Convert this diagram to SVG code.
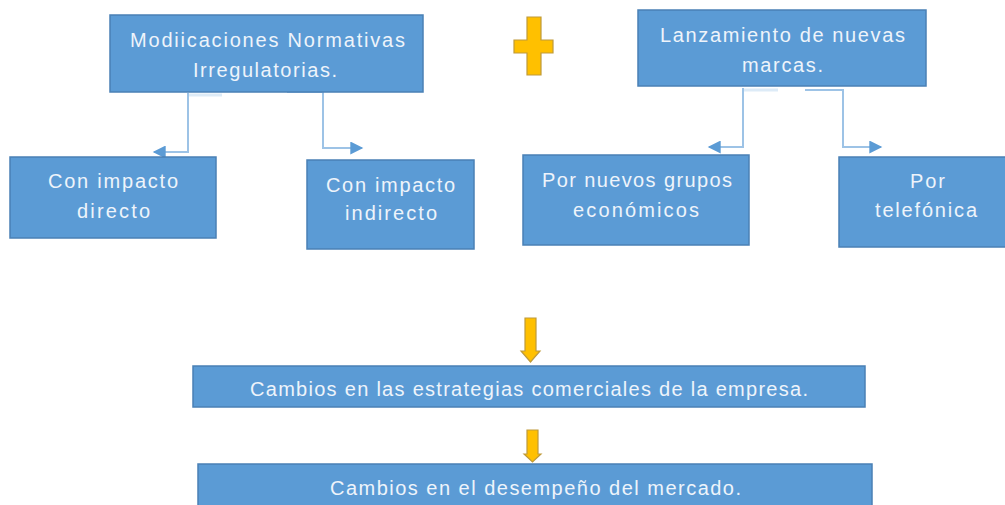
<svg xmlns="http://www.w3.org/2000/svg" width="1005" height="505" viewBox="0 0 1005 505">
<style>
.box{fill:#5B9BD5;stroke:#4A80B5;stroke-width:1.5}
.t{font-family:"Liberation Sans",Arial,sans-serif;font-size:20px;fill:#EEF4FB}
.con{fill:none;stroke:#9DC3E6;stroke-width:2}
.pale{fill:none;stroke:#DDEBF7;stroke-width:3}
.gold{fill:#FFC000;stroke:#BF9A3A;stroke-width:1.2}
</style>
<defs>
<marker id="ah" viewBox="0 0 10 10" refX="9" refY="5" markerWidth="15" markerHeight="13" markerUnits="userSpaceOnUse" orient="auto">
<path d="M0,0 L10,5 L0,10 z" fill="#5B9BD5"/>
</marker>
</defs>
<rect width="1005" height="505" fill="#FFFFFF"/>
<g id="connectors">
<path class="pale" d="M188,95 H222"/>
<path class="con" d="M188,93 V152 H154" marker-end="url(#ah)"/>
<path class="con" d="M287,92 H323 V148 H362" marker-end="url(#ah)"/>
<path class="pale" d="M743,90 H778"/>
<path class="con" d="M743,88 V147 H709" marker-end="url(#ah)"/>
<path class="con" d="M805,90 H843 V147 H881" marker-end="url(#ah)"/>
<path class="gold" d="M525,318 H536 V351 H540 L530.5,362 L521,351 H525 Z"/>
<path class="gold" d="M527,430 H538 V454 H541 L532.5,462 L524,454 H527 Z"/>
</g>
<g id="plus">
<path class="gold" d="M527,17 H541 V40 H553 V53 H541 V75 H527 V53 H514 V40 H527 Z"/>
</g>
<g id="n1">
<rect class="box" x="110" y="15" width="313" height="77"/>
<text class="t" x="130" y="47" textLength="275" lengthAdjust="spacing">Modiicaciones Normativas</text>
<text class="t" x="193" y="77" textLength="144" lengthAdjust="spacing">Irregulatorias.</text>
</g>
<g id="n2">
<rect class="box" x="10" y="157" width="206" height="81"/>
<text class="t" x="48" y="188" textLength="130" lengthAdjust="spacing">Con impacto</text>
<text class="t" x="77" y="218" textLength="73" lengthAdjust="spacing">directo</text>
</g>
<g id="n3">
<rect class="box" x="307" y="160" width="167" height="89"/>
<text class="t" x="326" y="192" textLength="129" lengthAdjust="spacing">Con impacto</text>
<text class="t" x="345" y="220" textLength="92" lengthAdjust="spacing">indirecto</text>
</g>
<g id="n4">
<rect class="box" x="638" y="10" width="288" height="76"/>
<text class="t" x="660" y="42" textLength="245" lengthAdjust="spacing">Lanzamiento de nuevas</text>
<text class="t" x="742" y="72" textLength="81" lengthAdjust="spacing">marcas.</text>
</g>
<g id="n5">
<rect class="box" x="523" y="155" width="226" height="90"/>
<text class="t" x="542" y="187" textLength="190" lengthAdjust="spacing">Por nuevos grupos</text>
<text class="t" x="573" y="217" textLength="126" lengthAdjust="spacing">económicos</text>
</g>
<g id="n6">
<rect class="box" x="839" y="157" width="172" height="90"/>
<text class="t" x="910" y="188" textLength="35" lengthAdjust="spacing">Por</text>
<text class="t" x="875" y="217" textLength="102" lengthAdjust="spacing">telefónica</text>
</g>
<g id="n7">
<rect class="box" x="193" y="366" width="672" height="41"/>
<text class="t" x="250" y="396" textLength="558" lengthAdjust="spacing">Cambios en las estrategias comerciales de la empresa.</text>
</g>
<g id="n8">
<rect class="box" x="198" y="464" width="674" height="45"/>
<text class="t" x="330" y="495" textLength="411" lengthAdjust="spacing">Cambios en el desempeño del mercado.</text>
</g>
</svg>
